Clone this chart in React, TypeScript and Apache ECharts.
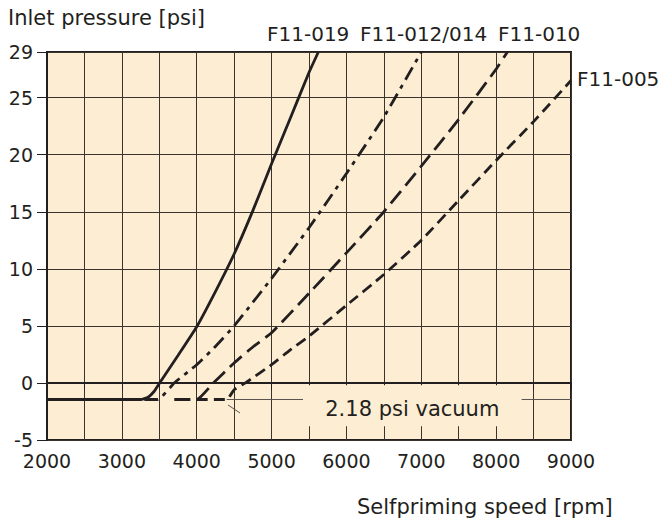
import React, { useEffect, useRef } from "react";
import * as echarts from "echarts";

// Inlet pressure [psi] vs selfpriming speed [rpm]
const VACUUM = -1.45;
const f019: [number, number][] = [
  [2000, VACUUM], [3250, VACUUM], [3350, -1.25], [3430, -0.75], [3500, -0.05],
  [3750, 2.4], [4000, 4.92], [4250, 8.0], [4500, 11.3], [4750, 15.1],
  [5000, 19.2], [5250, 23.2], [5500, 27.2], [5625, 29],
];
const f012: [number, number][] = [
  [3300, VACUUM], [3480, VACUUM], [3700, 0], [4000, 1.6], [4250, 3.2],
  [4500, 5.0], [5000, 9.16], [5500, 13.6], [6000, 18.35], [6500, 23.3], [7000, 29],
];
const f010: [number, number][] = [
  [3700, VACUUM], [4000, VACUUM], [4222, 0], [4500, 1.75], [4750, 3.15],
  [5000, 4.4], [5500, 7.85], [6000, 11.4], [6500, 15.0], [7000, 19.0],
  [7500, 23.1], [8000, 27.5], [8150, 29],
];
const f005: [number, number][] = [
  [4000, VACUUM], [4400, VACUUM], [4500, -0.6], [4650, 0], [5000, 1.6],
  [5250, 2.9], [5500, 4.1], [6000, 6.8], [6500, 9.5], [7000, 12.5],
  [7500, 16.0], [8000, 19.5], [8500, 22.9], [9000, 26.5],
];
const zeroLine: [number, number][] = [[2000, 0], [9000, 0]];
const vacuumLine: any[] = [[4400, VACUUM], [5420, VACUUM], "-", [8340, VACUUM], [9000, VACUUM]];
const leader: [number, number][] = [[4418, -1.93], [4578, -2.63]];
const vacuumBox = [[5420, -0.2], [8340, -3.8]];

const X_MIN = 2000, X_MAX = 9000, X_STEP = 500;
const Y_MIN = -5, Y_MAX = 29, Y_STEP = 5;

const curveLabels = [
  { text: "F11-019", x: 267, y: 34 },
  { text: "F11-012/014", x: 360, y: 34 },
  { text: "F11-010", x: 498, y: 34 },
  { text: "F11-005", x: 577, y: 79 },
];

const INK = "#231f20";
const FONT = "DejaVu Sans";

export default function App() {
  const ref = useRef<HTMLDivElement>(null);
  useEffect(() => {
    document.body.style.margin = "0";
    const chart = echarts.init(ref.current!, null, { renderer: "svg" });
    const curve = (name: string, data: any[], type: any) => ({
      name,
      type: "line",
      data,
      symbol: "none",
      smooth: 0.15,
      z: 4,
      lineStyle: { color: INK, width: 2.8, type, cap: "butt" },
    });
    chart.setOption({
      animation: false,
      grid: {
        left: 47, top: 52, width: 524, height: 388,
        show: true, backgroundColor: "#fdeed3", borderColor: INK, borderWidth: 2,
      },
      xAxis: {
        type: "value", min: X_MIN, max: X_MAX, interval: X_STEP,
        axisLine: { show: true, lineStyle: { color: INK, width: 2 } },
        axisTick: { show: true, length: 7, lineStyle: { color: INK, width: 1 } },
        axisLabel: {
          margin: 11, fontSize: 19, fontFamily: FONT, color: INK,
          formatter: (v: number) => (v % 1000 === 0 ? String(v) : ""),
        },
        splitLine: { show: true, lineStyle: { color: "#3a332e", width: 1 } },
      },
      yAxis: {
        type: "value", min: Y_MIN, max: Y_MAX, interval: Y_STEP,
        axisLine: { show: true, lineStyle: { color: INK, width: 2 } },
        axisTick: { show: true, length: 10, lineStyle: { color: INK, width: 1 } },
        axisLabel: { margin: 14, fontSize: 19, fontFamily: FONT, color: INK },
        splitLine: { show: true, lineStyle: { color: "#3a332e", width: 1 } },
      },
      series: [
        {
          type: "line", data: zeroLine, symbol: "none", z: 3,
          lineStyle: { color: INK, width: 2 },
        },
        {
          type: "line", data: vacuumLine, symbol: "none", z: 3, connectNulls: false,
          lineStyle: { color: "#5a5350", width: 1 },
          markArea: {
            silent: true,
            itemStyle: { color: "#fdeed3" },
            label: {
              show: true, position: "inside", formatter: "2.18 psi vacuum",
              fontSize: 21, fontFamily: FONT, color: INK, offset: [0, 3],
            },
            data: [[{ coord: vacuumBox[0] }, { coord: vacuumBox[1] }]],
          },
        },
        {
          type: "line", data: leader, symbol: "none", z: 3,
          lineStyle: { color: "#5a5350", width: 1 },
        },
        curve("F11-019", f019, "solid"),
        curve("F11-012/014", f012, [14, 6, 4, 6]),
        curve("F11-010", f010, [16, 7]),
        curve("F11-005", f005, [11, 6]),
      ],
      graphic: [
        {
          type: "text", x: 8, y: 18,
          style: { text: "Inlet pressure [psi]", font: `21px "${FONT}"`, fill: INK, textAlign: "left", textVerticalAlign: "middle" },
        },
        {
          type: "text", x: 357, y: 507,
          style: { text: "Selfpriming speed [rpm]", font: `21px "${FONT}"`, fill: INK, textAlign: "left", textVerticalAlign: "middle" },
        },
        ...curveLabels.map((l) => ({
          type: "text", x: l.x, y: l.y,
          style: { text: l.text, font: `20px "${FONT}"`, fill: INK, textAlign: "left", textVerticalAlign: "middle" },
        })),
      ],
    });
    return () => chart.dispose();
  }, []);
  return <div ref={ref} style={{ width: 659, height: 522 }} />;
}
